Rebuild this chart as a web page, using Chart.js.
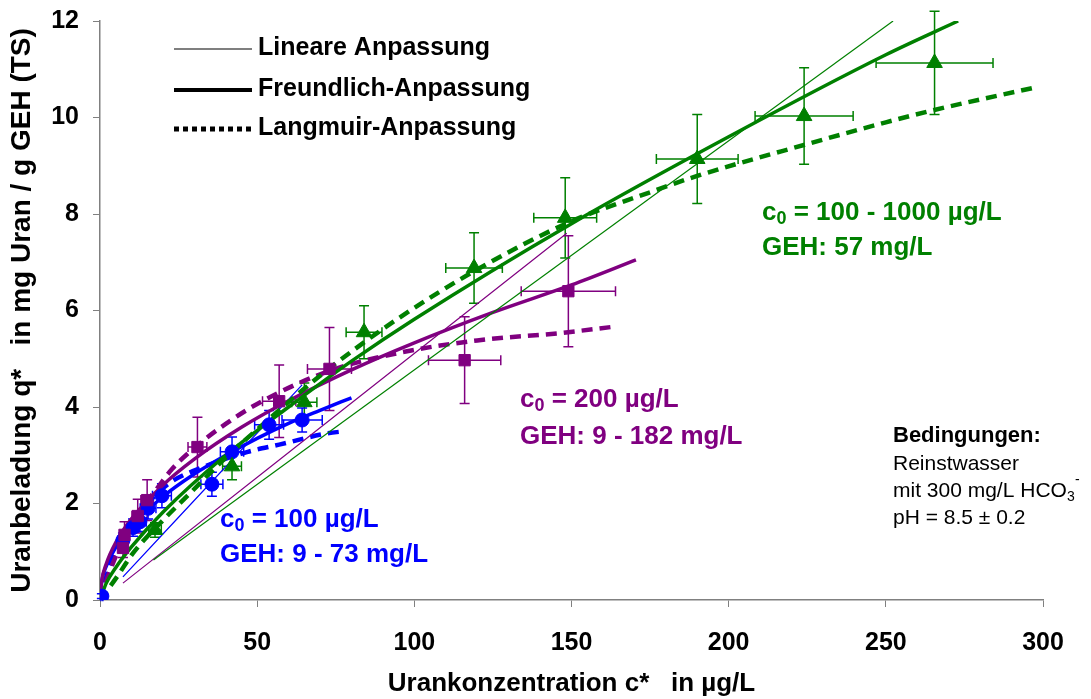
<!DOCTYPE html>
<html lang="de">
<head>
<meta charset="UTF-8" />
<title>Uranbeladung GEH</title>
<script src="https://cdn.jsdelivr.net/npm/chart.js"></script>
<style>
    html, body { margin: 0; padding: 0; background: #ffffff; }
    #wrap { width: 1091px; height: 699px; position: relative; }
</style>
</head>
<body>
<div id="wrap"><canvas id="isoChart"></canvas></div>
<script>
    const GREEN = "#008000", PURPLE = "#800080", BLUE = "#0000ff";
    const FONT = "'Liberation Sans', Arial, sans-serif";

    // x axis ticks (c* in µg/L), y axis ticks (q* in mg/g)
    const xTicks = [0, 50, 100, 150, 200, 250, 300];
    const yTicks = [0, 2, 4, 6, 8, 10, 12];

    // c0 = 100 - 1000 µg/L, GEH 57 mg/L (triangles)
    const greenC = [17.5, 42, 65, 84, 119, 148, 190, 224, 265.5];
    const greenQ = [1.45, 2.77, 4.1, 5.55, 6.88, 7.92, 9.14, 10.03, 11.13];
    const greenCErr = [2, 3, 4, 5.7, 9, 10, 13, 15.6, 18.6];
    const greenQErr = [0.15, 0.28, 0.4, 0.55, 0.73, 0.83, 0.92, 1.0, 1.07];
    const greenLinC = [17, 252.3];
    const greenLinQ = [0.83, 12];
    const greenFreuC = [0, 2, 5, 10, 20, 40, 60, 80, 100, 150, 200, 250, 273];
    const greenFreuQ = [0, 0.35, 0.67, 1.1, 1.82, 3.0, 4.0, 4.95, 5.82, 7.8, 9.6, 11.3, 12];
    const greenLangC = [0, 2.5, 5.4, 10.5, 20, 30, 40, 48.7, 71, 95, 120, 150, 175, 190, 225, 250, 265, 298];
    const greenLangQ = [0, 0.22, 0.48, 0.97, 1.65, 2.3, 2.95, 3.46, 4.7, 5.84, 6.85, 7.85, 8.45, 8.79, 9.45, 9.9, 10.15, 10.63];

    // c0 = 200 µg/L, GEH 9 - 182 mg/L (squares)
    const purpleC = [7.3, 7.8, 12, 15, 31, 57, 73, 116, 149];
    const purpleQ = [1.08, 1.35, 1.74, 2.07, 3.17, 4.12, 4.79, 4.97, 6.4];
    const purpleCErr = [1.5, 1.5, 1.8, 2, 3, 5.3, 7, 11.5, 15];
    const purpleQErr = [0.2, 0.27, 0.35, 0.42, 0.62, 0.75, 0.86, 0.9, 1.15];
    const purpleLinC = [7.3, 148.5];
    const purpleLinQ = [0.35, 7.6];
    const purpleFreuC = [0, 0.5, 2, 5, 10, 20, 30, 45, 60, 80, 100, 125, 150, 170.5];
    const purpleFreuQ = [0, 0.37, 0.75, 1.19, 1.68, 2.38, 2.92, 3.58, 4.13, 4.77, 5.33, 5.96, 6.53, 7.05];
    const purpleLangC = [0, 2, 5, 10, 18, 23, 30, 40, 51, 73, 95, 120, 146, 163];
    const purpleLangQ = [0, 0.4, 0.9, 1.6, 2.3, 2.72, 3.15, 3.65, 4.1, 4.75, 5.12, 5.38, 5.53, 5.66];

    // c0 = 100 µg/L, GEH 9 - 73 mg/L (circles)
    const blueC = [0.6, 7.3, 10.5, 12.7, 15.3, 19.7, 35.6, 42, 53.8, 64.3];
    const blueQ = [0.08, 1.24, 1.5, 1.62, 1.9, 2.16, 2.4, 3.07, 3.63, 3.73];
    const blueCErr = [0.3, 1.5, 1.8, 2, 2.5, 3, 3.5, 3.7, 4.6, 6.4];
    const blueQErr = [0.05, 0.15, 0.18, 0.2, 0.22, 0.25, 0.25, 0.31, 0.3, 0.25];
    const blueLinC = [7.3, 64.3];
    const blueLinQ = [0.48, 4.46];
    const blueFreuC = [0, 0.5, 2, 5, 10, 20, 30, 40, 50, 60, 70, 80];
    const blueFreuQ = [0, 0.36, 0.7, 1.09, 1.53, 2.14, 2.61, 3.0, 3.35, 3.66, 3.93, 4.19];
    const blueLangC = [0, 2.5, 5.7, 10, 15, 22, 33, 47, 57, 72, 78];
    const blueLangQ = [0, 0.58, 1.1, 1.64, 2.0, 2.42, 2.76, 3.07, 3.22, 3.45, 3.5];

    const legendLabels = ["Lineare Anpassung", "Freundlich-Anpassung", "Langmuir-Anpassung"];
    const conditionLines = ["Reinstwasser", "mit 300 mg/L HCO", "pH = 8.5 ± 0.2"];

    const pts = (xs, ys) => xs.map((x, i) => ({ x: x, y: ys[i] }));

    function markers(xs, ys, color, style, radius, cErr, qErr) {
        return {
            data: pts(xs, ys),
            showLine: false,
            pointStyle: style,
            pointRadius: radius,
            backgroundColor: color,
            borderColor: color,
            borderWidth: 1,
            errX: cErr,
            errY: qErr
        };
    }

    function fitLine(xs, ys, color, width, dash) {
        return {
            data: pts(xs, ys),
            showLine: true,
            pointRadius: 0,
            borderColor: color,
            borderWidth: width,
            borderDash: dash || [],
            cubicInterpolationMode: "monotone",
            fill: false
        };
    }

    // horizontal + vertical error bars with caps
    const errorBarPlugin = {
        id: "errorBars",
        beforeDatasetsDraw(chart) {
            const { ctx, scales: { x, y } } = chart;
            chart.data.datasets.forEach((ds) => {
                if (!ds.errX) return;
                ctx.save();
                ctx.strokeStyle = ds.borderColor;
                ctx.lineWidth = 1.5;
                ds.data.forEach((p, i) => {
                    const px = x.getPixelForValue(p.x), py = y.getPixelForValue(p.y);
                    const x1 = x.getPixelForValue(p.x - ds.errX[i]), x2 = x.getPixelForValue(p.x + ds.errX[i]);
                    const y1 = y.getPixelForValue(p.y - ds.errY[i]), y2 = y.getPixelForValue(p.y + ds.errY[i]);
                    const cap = 5;
                    ctx.beginPath();
                    ctx.moveTo(x1, py); ctx.lineTo(x2, py);
                    ctx.moveTo(x1, py - cap); ctx.lineTo(x1, py + cap);
                    ctx.moveTo(x2, py - cap); ctx.lineTo(x2, py + cap);
                    ctx.moveTo(px, y1); ctx.lineTo(px, y2);
                    ctx.moveTo(px - cap, y1); ctx.lineTo(px + cap, y1);
                    ctx.moveTo(px - cap, y2); ctx.lineTo(px + cap, y2);
                    ctx.stroke();
                });
                ctx.restore();
            });
        }
    };

    // write "c" + subscript 0 + rest
    function drawC0(ctx, x, y, rest, color, size) {
        ctx.fillStyle = color;
        ctx.textBaseline = "middle";
        ctx.textAlign = "left";
        ctx.font = `bold ${size}px ${FONT}`;
        ctx.fillText("c", x, y);
        let w = ctx.measureText("c").width;
        ctx.font = `bold ${Math.round(size * 0.68)}px ${FONT}`;
        ctx.fillText("0", x + w, y + size * 0.22);
        w += ctx.measureText("0").width;
        ctx.font = `bold ${size}px ${FONT}`;
        ctx.fillText(rest, x + w, y);
    }

    const annotationPlugin = {
        id: "annotations",
        afterDraw(chart) {
            const ctx = chart.ctx;
            ctx.save();

            // legend for the fit types
            const lx1 = 174, lx2 = 252, rowsY = [49, 90, 129];
            const widths = [1.2, 4, 5];
            const dashes = [[], [], [5, 4]];
            rowsY.forEach((yy, i) => {
                ctx.beginPath();
                ctx.strokeStyle = "#000";
                ctx.lineWidth = widths[i];
                ctx.setLineDash(dashes[i]);
                ctx.moveTo(lx1, yy);
                ctx.lineTo(lx2, yy);
                ctx.stroke();
                ctx.setLineDash([]);
                ctx.fillStyle = "#000";
                ctx.font = `bold 25px ${FONT}`;
                ctx.textAlign = "left";
                ctx.textBaseline = "middle";
                ctx.fillText(legendLabels[i], 258, yy - 1);
            });

            // series labels
            drawC0(ctx, 762, 213, " = 100 - 1000 µg/L", GREEN, 26);
            ctx.fillText("GEH: 57 mg/L", 762, 248);
            drawC0(ctx, 520, 400, " = 200 µg/L", PURPLE, 26);
            ctx.fillText("GEH: 9 - 182 mg/L", 520, 437);
            drawC0(ctx, 220, 520, " = 100 µg/L", BLUE, 26);
            ctx.fillText("GEH: 9 - 73 mg/L", 220, 555);

            // conditions
            ctx.fillStyle = "#000";
            ctx.font = `bold 22px ${FONT}`;
            ctx.fillText("Bedingungen:", 893, 436);
            ctx.font = `21px ${FONT}`;
            conditionLines.forEach((t, i) => ctx.fillText(t, 893, 464 + i * 27));
            const hw = ctx.measureText(conditionLines[1]).width;
            ctx.font = `14px ${FONT}`;
            ctx.fillText("3", 893 + hw, 497);
            ctx.fillText("-", 893 + hw + 8, 480);
            ctx.restore();
        }
    };

    const boldFont = (s) => ({ family: FONT, size: s, weight: "bold" });

    new Chart(document.getElementById("isoChart"), {
        type: "scatter",
        data: {
            datasets: [
                markers(greenC, greenQ, GREEN, "triangle", 9, greenCErr, greenQErr),
                markers(purpleC, purpleQ, PURPLE, "rect", 8, purpleCErr, purpleQErr),
                markers(blueC, blueQ, BLUE, "circle", 7, blueCErr, blueQErr),
                fitLine(greenLinC, greenLinQ, GREEN, 1.2),
                fitLine(greenFreuC, greenFreuQ, GREEN, 3.5),
                fitLine(greenLangC, greenLangQ, GREEN, 4.5, [11, 7]),
                fitLine(purpleLinC, purpleLinQ, PURPLE, 1.2),
                fitLine(purpleFreuC, purpleFreuQ, PURPLE, 3.5),
                fitLine(purpleLangC, purpleLangQ, PURPLE, 4.5, [11, 7]),
                fitLine(blueLinC, blueLinQ, BLUE, 1.2),
                fitLine(blueFreuC, blueFreuQ, BLUE, 3.5),
                fitLine(blueLangC, blueLangQ, BLUE, 4.5, [11, 7])
            ]
        },
        options: {
            responsive: true,
            maintainAspectRatio: false,
            animation: false,
            layout: { padding: { top: 21, right: 48, left: 0, bottom: 0 } },
            plugins: { legend: { display: false }, tooltip: { enabled: false } },
            scales: {
                x: {
                    type: "linear",
                    min: xTicks[0],
                    max: xTicks[xTicks.length - 1],
                    afterBuildTicks: (s) => { s.ticks = xTicks.map((v) => ({ value: v })); },
                    afterFit: (s) => { s.height = 99; s.paddingLeft = 0; s.paddingRight = 0; },
                    grid: { drawOnChartArea: false, tickLength: 7, color: "#808080" },
                    border: { color: "#808080", width: 1.5 },
                    ticks: { color: "#000", font: boldFont(25), padding: 21, maxRotation: 0 },
                    title: {
                        display: true,
                        text: "Urankonzentration c*   in µg/L",
                        color: "#000",
                        font: boldFont(26),
                        padding: { top: 0, bottom: 0 }
                    }
                },
                y: {
                    type: "linear",
                    min: yTicks[0],
                    max: yTicks[yTicks.length - 1],
                    afterBuildTicks: (s) => { s.ticks = yTicks.map((v) => ({ value: v })); },
                    afterFit: (s) => { s.width = 100; s.paddingTop = 0; s.paddingBottom = 0; },
                    grid: { drawOnChartArea: false, tickLength: 7, color: "#808080" },
                    border: { color: "#808080", width: 1.5 },
                    ticks: { color: "#000", font: boldFont(25), padding: 14 },
                    title: {
                        display: true,
                        text: "Uranbeladung q*   in mg Uran / g GEH (TS)",
                        color: "#000",
                        font: boldFont(28),
                        padding: { top: 5, bottom: 0 }
                    }
                }
            }
        },
        plugins: [errorBarPlugin, annotationPlugin]
    });
</script>
</body>
</html>
